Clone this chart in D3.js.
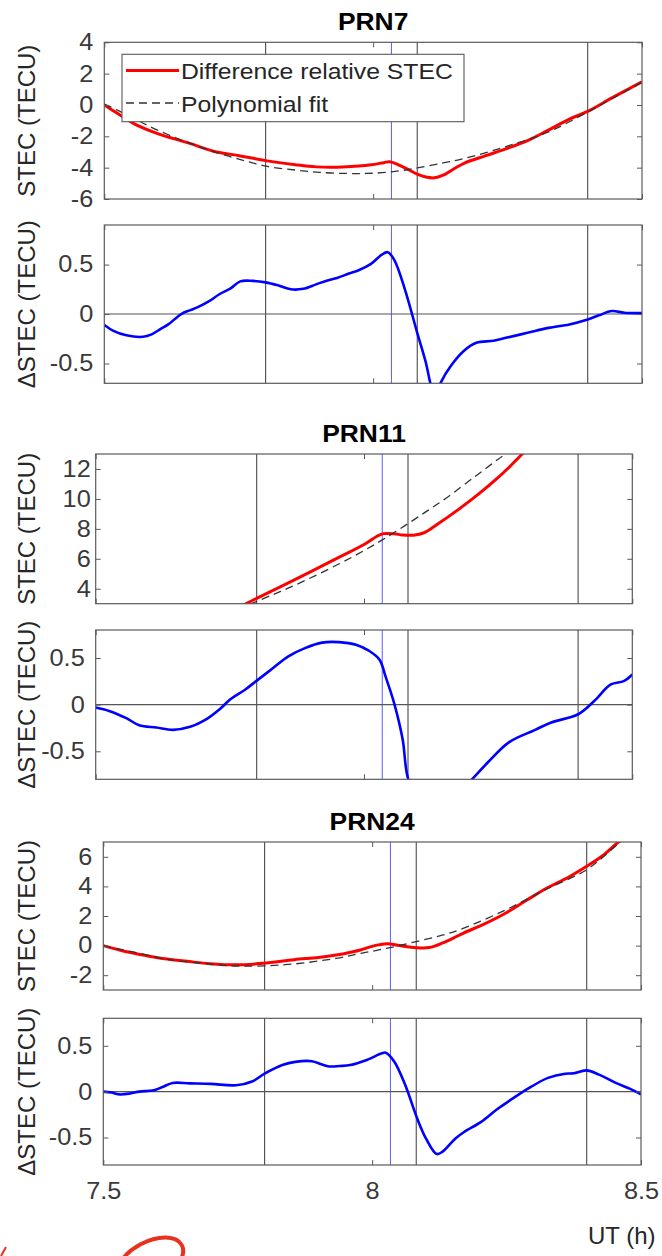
<!DOCTYPE html>
<html>
<head>
<meta charset="utf-8">
<script src="https://cdn.jsdelivr.net/npm/d3@7"></script>
<style>
  body { margin: 0; background: #fff; }
  svg { display: block; font-family: "Liberation Sans", Arial, sans-serif; }
</style>
</head>
<body>
<svg id="chart"></svg>
<script>
const width = 662;
const height = 1256;
const sx = 1.1; // the source picture is a little stretched sideways

// shared x axis (UT hours) and event markers
const xDomain = [7.5, 8.5];
const xTickValues = [7.5, 8, 8.5];
const blackEvents = [7.8, 8.082, 8.399];
const blueEvents = [8.034];

// PRN7
const prn7Stec = [[7.5,0.0],[7.525,-0.55],[7.554,-1.17],[7.598,-1.81],[7.659,-2.45],[7.703,-2.95],[7.753,-3.25],[7.8,-3.55],[7.855,-3.81],[7.894,-3.95],[7.933,-3.97],[7.973,-3.9],[7.996,-3.82],[8.02,-3.68],[8.031,-3.62],[8.047,-3.82],[8.067,-4.15],[8.082,-4.42],[8.098,-4.6],[8.114,-4.65],[8.13,-4.48],[8.153,-4.02],[8.169,-3.72],[8.208,-3.25],[8.247,-2.8],[8.287,-2.28],[8.326,-1.6],[8.365,-0.9],[8.399,-0.41],[8.444,0.45],[8.5,1.48]];
const prn7Fit = [[7.5,0.05],[7.541,-0.6],[7.58,-1.3],[7.619,-1.9],[7.66,-2.45],[7.698,-2.92],[7.75,-3.45],[7.8,-3.9],[7.855,-4.15],[7.9,-4.3],[7.95,-4.37],[7.988,-4.37],[8.034,-4.27],[8.082,-4.02],[8.13,-3.7],[8.169,-3.42],[8.247,-2.65],[8.326,-1.72],[8.399,-0.45],[8.444,0.4],[8.5,1.45]];
const prn7Delta = [[7.5,-0.11],[7.517,-0.17],[7.541,-0.215],[7.572,-0.23],[7.588,-0.205],[7.605,-0.15],[7.619,-0.105],[7.643,0.0],[7.66,0.04],[7.674,0.07],[7.695,0.13],[7.714,0.2],[7.735,0.26],[7.753,0.33],[7.776,0.335],[7.8,0.32],[7.823,0.29],[7.847,0.25],[7.87,0.255],[7.894,0.3],[7.915,0.34],[7.933,0.365],[7.955,0.41],[7.973,0.443],[7.996,0.507],[8.016,0.6],[8.027,0.625],[8.039,0.55],[8.059,0.25],[8.082,-0.19],[8.098,-0.49],[8.106,-0.69],[8.115,-0.85],[8.126,-0.69],[8.145,-0.52],[8.169,-0.37],[8.192,-0.29],[8.224,-0.27],[8.247,-0.24],[8.287,-0.19],[8.326,-0.14],[8.365,-0.105],[8.399,-0.055],[8.42,-0.013],[8.444,0.03],[8.467,0.013],[8.5,0.01]];

// PRN11
const prn11Stec = [[7.776,2.93],[7.799,3.34],[7.874,4.66],[7.953,6.09],[8.001,6.97],[8.025,7.52],[8.036,7.68],[8.056,7.67],[8.072,7.59],[8.092,7.58],[8.112,7.74],[8.136,8.29],[8.175,9.27],[8.215,10.37],[8.246,11.3],[8.27,12.1],[8.295,13.0],[8.31,13.5]];
const prn11Fit = [[7.787,2.95],[7.83,3.6],[7.874,4.28],[7.953,5.65],[8.0,6.55],[8.035,7.28],[8.082,8.35],[8.12,9.25],[8.151,10.0],[8.207,11.5],[8.25,12.65],[8.268,13.1]];
const prn11Delta = [[7.5,-0.03],[7.525,-0.067],[7.557,-0.145],[7.581,-0.22],[7.613,-0.245],[7.644,-0.27],[7.676,-0.238],[7.708,-0.15],[7.731,-0.05],[7.751,0.057],[7.779,0.163],[7.799,0.252],[7.827,0.376],[7.859,0.518],[7.89,0.606],[7.922,0.665],[7.953,0.67],[7.985,0.642],[8.009,0.578],[8.029,0.482],[8.04,0.305],[8.056,0.02],[8.072,-0.37],[8.082,-0.79],[8.11,-1.15],[8.15,-1.1],[8.203,-0.79],[8.231,-0.617],[8.27,-0.404],[8.318,-0.273],[8.349,-0.191],[8.399,-0.103],[8.429,0.039],[8.46,0.216],[8.484,0.252],[8.5,0.323]];

// PRN24
const prn24Stec = [[7.5,0.0],[7.541,-0.4],[7.58,-0.68],[7.619,-0.91],[7.66,-1.08],[7.698,-1.22],[7.745,-1.3],[7.797,-1.2],[7.855,-0.95],[7.9,-0.8],[7.933,-0.64],[7.96,-0.45],[7.98,-0.28],[8.0,-0.05],[8.012,0.05],[8.029,0.12],[8.051,0.0],[8.082,-0.14],[8.106,-0.13],[8.13,0.16],[8.169,0.83],[8.208,1.45],[8.247,2.17],[8.287,3.06],[8.326,3.91],[8.365,4.62],[8.396,5.29],[8.428,6.05],[8.458,7.0],[8.47,7.3]];
const prn24Fit = [[7.5,0.0],[7.58,-0.62],[7.619,-0.93],[7.698,-1.25],[7.745,-1.38],[7.797,-1.37],[7.855,-1.24],[7.933,-0.86],[7.98,-0.52],[8.029,-0.17],[8.082,0.27],[8.13,0.7],[8.169,1.16],[8.247,2.39],[8.326,3.84],[8.396,5.06],[8.43,6.0],[8.46,6.95],[8.48,7.5]];
const prn24Delta = [[7.5,0.0],[7.515,-0.01],[7.531,-0.03],[7.55,-0.02],[7.567,0.0],[7.594,0.015],[7.61,0.05],[7.629,0.095],[7.661,0.09],[7.7,0.085],[7.747,0.07],[7.778,0.114],[7.8,0.196],[7.833,0.29],[7.857,0.325],[7.888,0.332],[7.905,0.3],[7.92,0.275],[7.94,0.28],[7.959,0.29],[7.99,0.346],[8.018,0.418],[8.025,0.425],[8.041,0.33],[8.061,0.08],[8.084,-0.296],[8.1,-0.51],[8.12,-0.68],[8.131,-0.654],[8.155,-0.51],[8.171,-0.44],[8.202,-0.332],[8.233,-0.19],[8.273,-0.03],[8.296,0.054],[8.327,0.15],[8.359,0.196],[8.375,0.2],[8.398,0.232],[8.422,0.186],[8.453,0.096],[8.48,0.03],[8.5,-0.03]];

// y ticks
const stecTicks7 = [-6, -4, -2, 0, 2, 4];
const stecTicks11 = [4, 6, 8, 10, 12];
const stecTicks24 = [-2, 0, 2, 4, 6];
const deltaTicks = [-0.5, 0, 0.5];

const legendLabels = ["Difference relative STEC", "Polynomial fit"];

// panel layout
const panels = [
  { left: 104.3, right: 642, top: 42.3, bottom: 199, yDomain: [-6, 4], yTicks: stecTicks7, pad: 11,
    title: "PRN7", label: "STEC (TECU)", stec: prn7Stec, fit: prn7Fit, legend: true },
  { left: 104.3, right: 642, top: 225, bottom: 383.3, yDomain: [-0.7, 0.9], yTicks: deltaTicks, pad: 11,
    label: "\u0394STEC (TECU)", delta: prn7Delta },
  { left: 95.7, right: 632.3, top: 454, bottom: 603.7, yDomain: [3, 13], yTicks: stecTicks11, pad: 5,
    title: "PRN11", label: "STEC (TECU)", stec: prn11Stec, fit: prn11Fit },
  { left: 95.7, right: 632.3, top: 630, bottom: 779.3, yDomain: [-0.8, 0.8], yTicks: deltaTicks, pad: 11,
    label: "\u0394STEC (TECU)", delta: prn11Delta },
  { left: 103.3, right: 641, top: 842, bottom: 990, yDomain: [-3, 7], yTicks: stecTicks24, pad: 11,
    title: "PRN24", label: "STEC (TECU)", stec: prn24Stec, fit: prn24Fit },
  { left: 103.3, right: 641, top: 1018.3, bottom: 1165, yDomain: [-0.8, 0.8], yTicks: deltaTicks, pad: 11,
    label: "\u0394STEC (TECU)", delta: prn24Delta, xLabels: true }
];

const svg = d3.select("#chart").attr("width", width).attr("height", height);
const defs = svg.append("defs");

panels.forEach((p, i) => {
  const x = d3.scaleLinear().domain(xDomain).range([p.left, p.right]);
  const y = d3.scaleLinear().domain(p.yDomain).range([p.bottom, p.top]);
  const g = svg.append("g");

  defs.append("clipPath").attr("id", "clip" + i)
    .append("rect")
    .attr("x", p.left).attr("y", p.top)
    .attr("width", p.right - p.left).attr("height", p.bottom - p.top);

  // event lines
  g.selectAll(".ev")
    .data(blackEvents)
    .join("line")
    .attr("x1", d => x(d)).attr("x2", d => x(d))
    .attr("y1", p.top).attr("y2", p.bottom)
    .attr("stroke", "#4a4a4a").attr("stroke-width", 1.1);

  g.selectAll(".evb")
    .data(blueEvents)
    .join("line")
    .attr("x1", d => x(d)).attr("x2", d => x(d))
    .attr("y1", p.top).attr("y2", p.bottom)
    .attr("stroke", "#5c5cff").attr("stroke-width", 1);

  const plot = g.append("g").attr("clip-path", `url(#clip${i})`);
  const line = d3.line().x(d => x(d[0])).y(d => y(d[1]));

  if (p.delta) {
    plot.append("line")
      .attr("x1", p.left).attr("x2", p.right)
      .attr("y1", y(0)).attr("y2", y(0))
      .attr("stroke", "#555").attr("stroke-width", 1.1);
    plot.append("path")
      .datum(p.delta)
      .attr("d", line.curve(d3.curveCatmullRom.alpha(0.5)))
      .attr("fill", "none").attr("stroke", "#0000ff")
      .attr("stroke-width", 2.6).attr("stroke-linejoin", "round");
  } else {
    plot.append("path")
      .datum(p.stec)
      .attr("d", line.curve(d3.curveCatmullRom))
      .attr("fill", "none").attr("stroke", "#ff0000")
      .attr("stroke-width", 3).attr("stroke-linejoin", "round");
    plot.append("path")
      .datum(p.fit)
      .attr("d", line.curve(d3.curveCatmullRom))
      .attr("fill", "none").attr("stroke", "#333")
      .attr("stroke-width", 1.3).attr("stroke-dasharray", "8,5");
  }

  // box
  g.append("rect")
    .attr("x", p.left).attr("y", p.top)
    .attr("width", p.right - p.left).attr("height", p.bottom - p.top)
    .attr("fill", "none").attr("stroke", "#5a5a5a").attr("stroke-width", 1.2);

  // axes, ticks pointing inwards
  const yAxis = g.append("g")
    .attr("transform", `translate(${p.left},0)`)
    .call(d3.axisLeft(y).tickValues(p.yTicks).tickSizeInner(-5).tickSizeOuter(0)
      .tickPadding(p.pad).tickFormat(d => String(d)));
  yAxis.selectAll("text")
    .attr("x", -p.pad / sx)
    .attr("transform", `scale(${sx},1)`);

  g.append("g")
    .attr("transform", `translate(${p.right},0)`)
    .call(d3.axisRight(y).tickValues(p.yTicks).tickSizeInner(-5).tickSizeOuter(0).tickFormat(""));

  g.append("g")
    .attr("transform", `translate(0,${p.top})`)
    .call(d3.axisTop(x).tickValues(xTickValues).tickSizeInner(-5).tickSizeOuter(0).tickFormat(""));

  const xAxis = g.append("g")
    .attr("transform", `translate(0,${p.bottom})`)
    .call(d3.axisBottom(x).tickValues(xTickValues).tickSizeInner(-5).tickSizeOuter(0)
      .tickPadding(18).tickFormat(p.xLabels ? (d => String(d)) : ""));
  xAxis.selectAll("text").attr("transform", `scale(${sx},1)`);

  g.selectAll(".domain").remove();
  g.selectAll(".tick line").attr("stroke", "#5a5a5a");
  g.selectAll(".tick text")
    .attr("fill", "#3a3a3a")
    .style("font-size", "23px")
    .style("font-family", '"Liberation Sans", Arial, sans-serif');

  // y label
  svg.append("text")
    .attr("transform", `translate(35,${(p.top + p.bottom) / 2}) rotate(-90)`)
    .attr("text-anchor", "middle")
    .attr("fill", "#262626")
    .style("font-size", "24px")
    .text(p.label);

  // title
  if (p.title) {
    svg.append("text")
      .attr("transform", `translate(${(p.left + p.right) / 2},${p.top - 12}) scale(${sx},1)`)
      .attr("text-anchor", "middle")
      .attr("fill", "#000")
      .style("font-size", "24px")
      .style("font-weight", "bold")
      .text(p.title);
  }

  // legend
  if (p.legend) {
    const lg = svg.append("g");
    lg.append("rect")
      .attr("x", 122).attr("y", 54.3).attr("width", 342).attr("height", 67.4)
      .attr("fill", "#fff").attr("stroke", "#5a5a5a").attr("stroke-width", 1.1);
    lg.append("line")
      .attr("x1", 126).attr("x2", 179).attr("y1", 70.5).attr("y2", 70.5)
      .attr("stroke", "#ff0000").attr("stroke-width", 3);
    lg.append("line")
      .attr("x1", 126).attr("x2", 179).attr("y1", 103).attr("y2", 103)
      .attr("stroke", "#333").attr("stroke-width", 1.3).attr("stroke-dasharray", "8,5");
    lg.selectAll(".lt")
      .data(legendLabels)
      .join("text")
      .attr("transform", (d, k) => `translate(181,${79.3 + k * 32.5}) scale(${sx},1)`)
      .attr("fill", "#262626")
      .style("font-size", "22.5px")
      .text(d => d);
  }
});

// x axis title, kept just inside the right edge
svg.append("text")
  .attr("x", 588).attr("y", 1244)
  .attr("fill", "#262626")
  .style("font-size", "24px")
  .text("UT (h)");

// watermark fragments at the bottom
svg.append("ellipse")
  .attr("cx", 150).attr("cy", 1262).attr("rx", 36).attr("ry", 20)
  .attr("transform", "rotate(-28,150,1262)")
  .attr("fill", "none").attr("stroke", "#e8321e").attr("stroke-width", 4);
svg.append("path")
  .attr("d", "M1,1256 L6,1247")
  .attr("fill", "none").attr("stroke", "#e8321e").attr("stroke-width", 2);
</script>
</body>
</html>
